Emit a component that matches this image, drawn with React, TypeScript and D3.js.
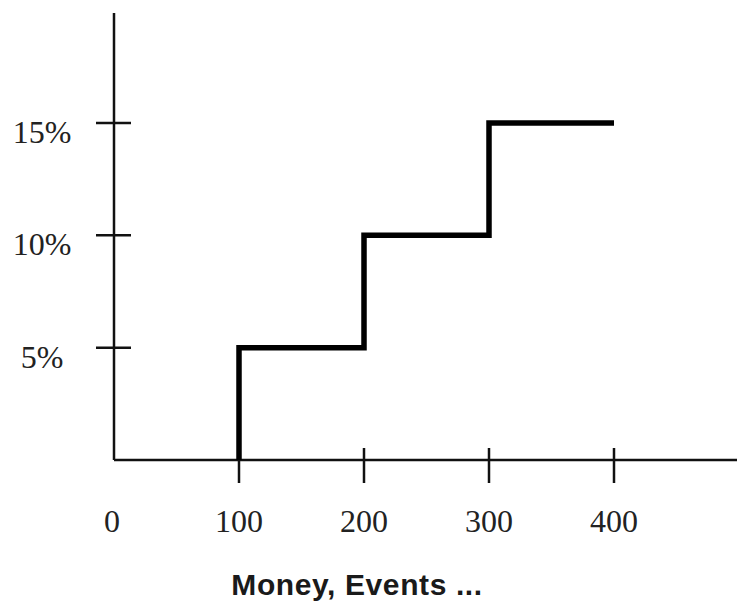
import { useEffect } from "react";
import * as d3 from "d3";

// Step schedule: rate (%) applies from each threshold on
const thresholds = [100, 200, 300, 400];
const rates = [5, 10, 15, 15];
const xTicks = [0, 100, 200, 300, 400];
const yTicks = [5, 10, 15];
const xLabel = "Money, Events ...";

const W = 737;
const H = 603;

export default function App() {
  useEffect(() => {
    document.body.style.margin = "0";
  }, []);

  const x = d3.scaleLinear().domain([0, 400]).range([114, 614]);
  const y = d3.scaleLinear().domain([0, 15]).range([460, 123]);

  const pts: [number, number][] = [
    [thresholds[0], 0],
    ...thresholds.map((t, i) => [t, rates[i]] as [number, number]),
  ];

  const line = d3
    .line<[number, number]>()
    .x((d) => x(d[0]))
    .y((d) => y(d[1]))
    .curve(d3.curveStepAfter);

  const x0 = x(0);
  const y0 = y(0);

  return (
    <svg width={W} height={H} style={{ display: "block", background: "#fff" }}>
      {/* axes */}
      <line x1={x0} x2={W} y1={y0} y2={y0} stroke="#111" strokeWidth={2.5} />
      <line x1={x0} x2={x0} y1={13} y2={y0} stroke="#111" strokeWidth={2.5} />

      {/* x ticks */}
      {xTicks.map((t) => (
        <g key={`xt${t}`}>
          {t > 0 && (
            <line
              x1={x(t)}
              x2={x(t)}
              y1={y0 - 12}
              y2={y0 + 23}
              stroke="#111"
              strokeWidth={2.5}
            />
          )}
          <text
            x={x(t) - (t === 0 ? 2 : 0)}
            y={532}
            textAnchor="middle"
            fontFamily="'Liberation Serif', 'Times New Roman', serif"
            fontSize={32}
            fill="#222"
          >
            {t}
          </text>
        </g>
      ))}

      {/* y ticks */}
      {yTicks.map((t) => (
        <g key={`yt${t}`}>
          <line
            x1={x0 - 18}
            x2={x0 + 17}
            y1={y(t)}
            y2={y(t)}
            stroke="#111"
            strokeWidth={2.5}
          />
          <text
            x={42}
            y={y(t) + 20}
            textAnchor="middle"
            fontFamily="'Liberation Serif', 'Times New Roman', serif"
            fontSize={32}
            fill="#222"
          >
            {t}%
          </text>
        </g>
      ))}

      {/* step line */}
      <path
        d={line(pts) ?? ""}
        fill="none"
        stroke="#000"
        strokeWidth={5.5}
        strokeLinejoin="miter"
      />

      {/* x label */}
      <text
        x={357}
        y={595}
        textAnchor="middle"
        fontFamily="'Liberation Sans', Arial, sans-serif"
        fontWeight="bold"
        fontSize={30}
        letterSpacing={0.6}
        fill="#1a1a1a"
      >
        {xLabel}
      </text>
    </svg>
  );
}
